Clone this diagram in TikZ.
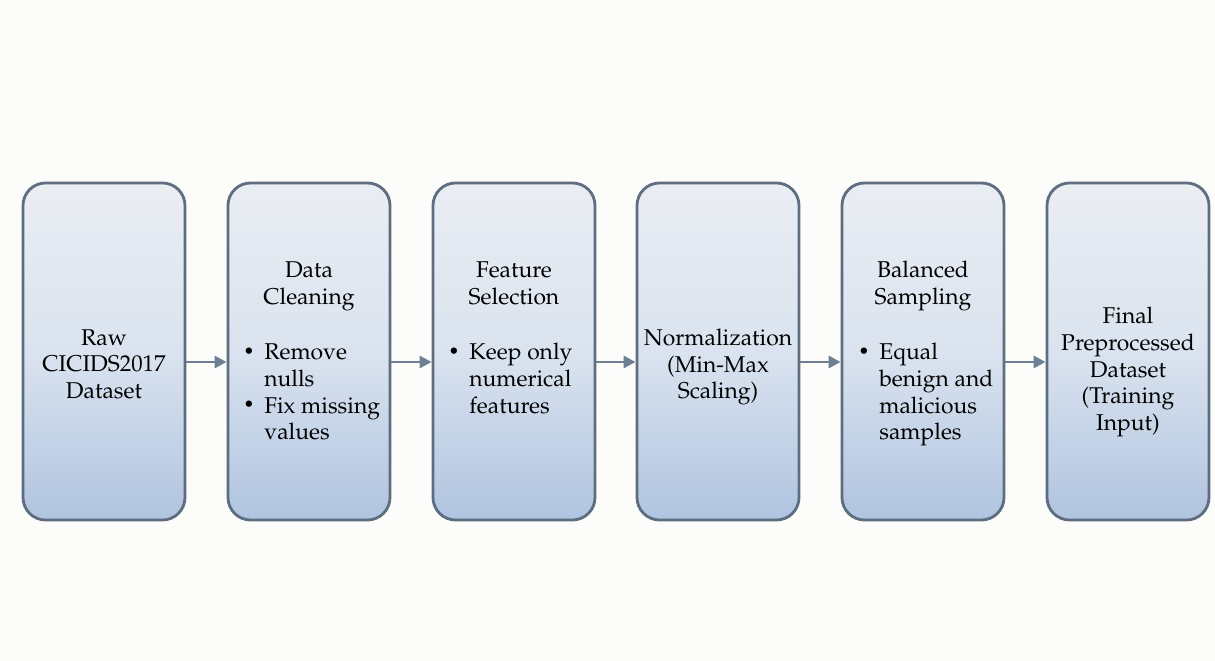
\documentclass[tikz,border=0pt]{standalone}
\usepackage[T1]{fontenc}
\usepackage{mathpazo}
\usepackage{tikz}
\usetikzlibrary{arrows.meta,positioning}

\definecolor{boxline}{HTML}{5E6E80}
\definecolor{arrowgray}{HTML}{6D7F92}
\definecolor{boxtop}{HTML}{EAEEF3}
\definecolor{boxmid}{HTML}{DAE3EF}
\definecolor{boxbot}{HTML}{B0C4E0}
\definecolor{paper}{HTML}{FCFCFA}

\newcommand{\stack}[1]{\begin{tabular}[t]{@{}c@{}}#1\end{tabular}}
\newcommand{\blist}[1]{\begin{tabular}[t]{@{}p{0.42cm}@{}l@{}}#1\end{tabular}}
\newcommand{\dotitem}{\raisebox{0.2ex}{\fontsize{10.5}{10.5}\selectfont\textbullet}}

\begin{document}
\begin{tikzpicture}[
  font=\fontsize{13}{15.1}\selectfont,
  stage/.style={draw=boxline,line width=1.6pt,rounded corners=0.45cm,
    minimum width=3.24cm,minimum height=6.74cm,inner sep=0pt,
    top color=boxtop,bottom color=boxbot,middle color=boxmid},
  lbl/.style={align=center,inner sep=0pt},
  flow/.style={draw=arrowgray,line width=1.7pt,-{Triangle[length=0.24cm,width=0.24cm]}}
]
% background and page size
\fill[paper] (0,0) rectangle (24.3,13.22);
\useasboundingbox (0,0) rectangle (24.3,13.22);

% pipeline stages
\node[stage] (raw)  at (2.08,6.19)  {};
\node[stage] (clean) at (6.18,6.19) {};
\node[stage] (feat) at (10.28,6.19) {};
\node[stage] (norm) at (14.36,6.19) {};
\node[stage] (bal)  at (18.46,6.19) {};
\node[stage] (final) at (22.56,6.19) {};

% stage texts
\node[lbl] (rawtxt) at (2.08,5.94) {Raw\\CICIDS2017\\Dataset};
\node[lbl,anchor=base] (cleanhd) at (6.18,7.66) {\stack{Data\\Cleaning}};
\node[lbl,anchor=base west] (cleanls) at (4.86,6.02)
  {\blist{\dotitem & Remove\\ & nulls\\ \dotitem & Fix missing\\ & values}};
\node[lbl,anchor=base] (feathd) at (10.28,7.66) {\stack{Feature\\Selection}};
\node[lbl,anchor=base west] (featls) at (8.96,6.02)
  {\blist{\dotitem & Keep only\\ & numerical\\ & features}};
\node[lbl] (normtxt) at (14.36,5.88) {Normalization\\(Min-Max\\Scaling)};
\node[lbl,anchor=base] (balhd) at (18.46,7.66) {\stack{Balanced\\Sampling}};
\node[lbl,anchor=base west] (balls) at (17.16,6.02)
  {\blist{\dotitem & Equal\\ & benign and\\ & malicious\\ & samples}};
\node[lbl] (finaltxt) at (22.56,5.78) {Final\\Preprocessed\\Dataset\\(Training\\Input)};

% connectors
\draw[flow] ([yshift=-0.21cm]raw.east) -- ([yshift=-0.21cm]clean.west);
\draw[flow] ([yshift=-0.21cm]clean.east) -- ([yshift=-0.21cm]feat.west);
\draw[flow] ([yshift=-0.21cm]feat.east) -- ([yshift=-0.21cm]norm.west);
\draw[flow] ([yshift=-0.21cm]norm.east) -- ([yshift=-0.21cm]bal.west);
\draw[flow] ([yshift=-0.21cm]bal.east) -- ([yshift=-0.21cm]final.west);
\end{tikzpicture}
\end{document}
